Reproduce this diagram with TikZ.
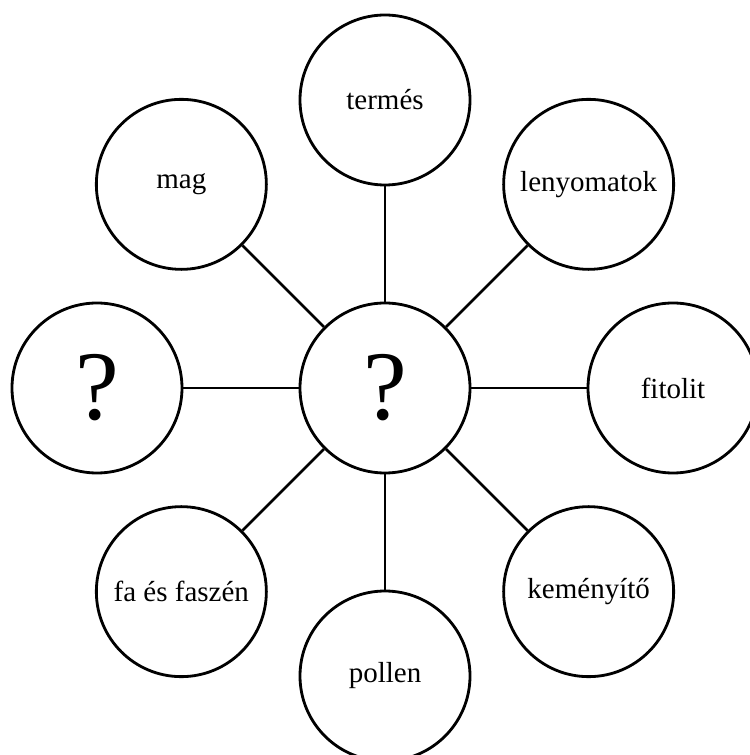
\documentclass[tikz,border=0pt]{standalone}
\usepackage{fontspec}
\setmainfont{Liberation Serif}
\usetikzlibrary{positioning}

\begin{document}
\begin{tikzpicture}[
  kor/.style={circle, draw, line width=1.6pt, minimum size=3.4cm, inner sep=0pt, font=\fontsize{16.5}{19}\selectfont},
  kerdes/.style={kor, font=\fontsize{56}{60}\selectfont},
  vonal/.style={line width=1.6pt}
]
\useasboundingbox (-7.7,-7.34) rectangle (7.28,7.76);
% center
\node[kerdes] (kozep) at (0,0) {?};
% surrounding circles
\node[kor] (termes) at (90:5.76) {termés};
\node[kor] (lenyomat) at (45:5.76) {lenyomatok};
\node[kor] (fitolit) at (0:5.76) {fitolit};
\node[kor] (kemenyito) at (-45:5.76) {keményítő};
\node[kor] (pollen) at (-90:5.76) {pollen};
\node[kor] (fa) at (-135:5.76) {fa és faszén};
\node[kerdes] (ismeretlen) at (180:5.76) {?};
\node[kor] (mag) at (135:5.76) {mag};
% spokes
\foreach \kulso in {termes, lenyomat, fitolit, kemenyito, pollen, fa, ismeretlen, mag}
  \draw[vonal] (kozep) -- (\kulso);
\end{tikzpicture}
\end{document}
